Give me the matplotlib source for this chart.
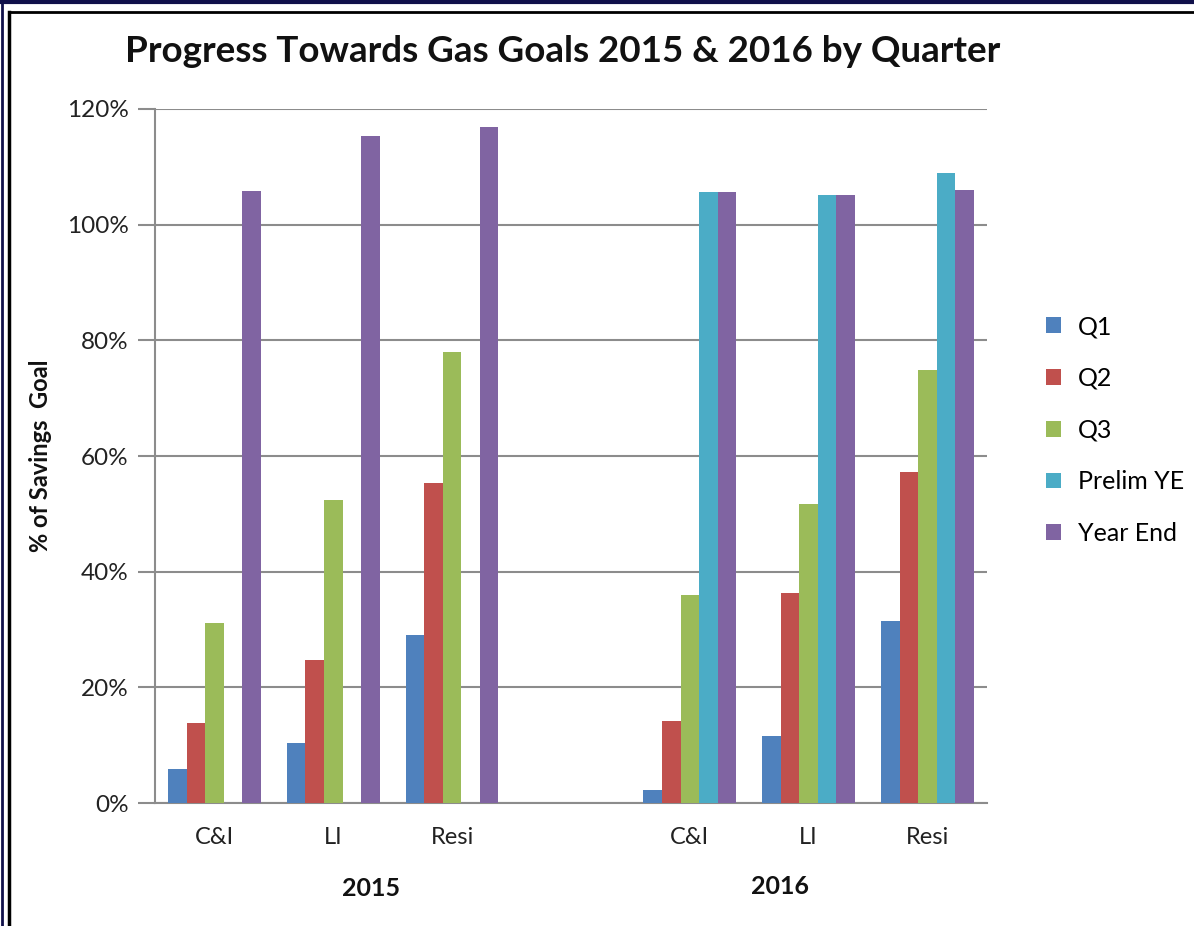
import numpy as np
import matplotlib
matplotlib.use('Agg')
import matplotlib.pyplot as plt
from matplotlib.lines import Line2D
from matplotlib.patches import Patch
import matplotlib.transforms as mtrans

plt.rcParams['font.family'] = ['Lato', 'DejaVu Sans']

# categories (blank slot separates the two years)
cats = ['C&I', 'LI', 'Resi', '', 'C&I', 'LI', 'Resi']
years = ['2015', '2016']
series = ['Q1', 'Q2', 'Q3', 'Prelim YE', 'Year End']

# % of savings goal, 2015 then 2016
q1 = [5.9, 10.4, 29.1, np.nan, 2.2, 11.6, 31.4]
q2 = [13.8, 24.7, 55.4, np.nan, 14.1, 36.3, 57.3]
q3 = [31.1, 52.4, 77.9, np.nan, 35.9, 51.7, 74.9]
prelim = [np.nan, np.nan, np.nan, np.nan, 105.6, 105.2, 108.9]
year_end = [105.9, 115.3, 116.8, np.nan, 105.6, 105.2, 106.0]

colors = ['#4F81BD', '#C0504D', '#9BBB59', '#4BACC6', '#8064A2']

fig = plt.figure(figsize=(11.94, 9.26), dpi=100)
ax = fig.add_axes([0.1298, 0.1328, 0.8266 - 0.1298, 0.8823 - 0.1328])

x = np.arange(len(cats))
w = 0.156
for j, (vals, c, name) in enumerate(zip([q1, q2, q3, prelim, year_end], colors, series)):
    ax.bar(x + (j - 2) * w, vals, w, color=c, label=name, zorder=3)

ax.set_xlim(-0.5, len(cats) - 0.5)
ax.set_ylim(0, 120)
ax.set_yticks(np.arange(0, 121, 20))
ax.set_yticklabels(['%d%%' % v for v in range(0, 121, 20)], fontsize=17.5, color='#222222')
ax.set_xticks(x)
ax.set_xticklabels(cats, fontsize=17, color='#222222')
ax.tick_params(axis='x', length=0, pad=17)
ax.tick_params(axis='y', length=12, width=1.5, color='#8c8c8c', pad=7)
ax.grid(axis='y', color='#8c8c8c', linewidth=1.5, zorder=0)
for s in ['top', 'right']:
    ax.spines[s].set_visible(False)
ax.spines['left'].set_color('#8c8c8c')
ax.spines['bottom'].set_color('#8c8c8c')
ax.spines['left'].set_linewidth(1.5)
ax.spines['bottom'].set_linewidth(1.5)

# year group labels under the categories
tr = mtrans.blended_transform_factory(ax.transData, fig.transFigure)
ax.text(1.32, 1 - 889 / 926, years[0], transform=tr, ha='center', va='center',
        fontsize=18, fontweight='bold', color='#111111')
ax.text(4.76, 1 - 887 / 926, years[1], transform=tr, ha='center', va='center',
        fontsize=18, fontweight='bold', color='#111111')

ax.set_ylabel('% of Savings  Goal', fontsize=17, fontweight='bold', color='#111111')
ax.yaxis.set_label_coords(52 / 1194, 0.5, transform=mtrans.blended_transform_factory(fig.transFigure, ax.transAxes))

fig.text(563 / 1194, 1 - 52 / 926, 'Progress Towards Gas Goals 2015 & 2016 by Quarter',
         ha='center', va='center', fontsize=26.5, fontweight='bold', color='#111111')

handles = [Patch(facecolor=c) for c in colors]
fig.legend(handles, series, loc='center left', bbox_to_anchor=(1023 / 1194, 1 - 430 / 926),
           frameon=False, fontsize=18, handlelength=0.6, handleheight=0.6,
           handletextpad=0.7, labelspacing=1.15)

# outer frame of the screenshot
fig.add_artist(Line2D([0, 1], [1 - 1.5 / 926] * 2, color='#10104a', linewidth=3))
fig.add_artist(Line2D([1.5 / 1194] * 2, [0, 1], color='#10104a', linewidth=2))
fig.add_artist(Line2D([8.5 / 1194, 1], [1 - 12 / 926] * 2, color='black', linewidth=2))
fig.add_artist(Line2D([8.5 / 1194] * 2, [1 - 12 / 926, 0], color='black', linewidth=2.5))

fig.savefig('out.png', dpi=100)
